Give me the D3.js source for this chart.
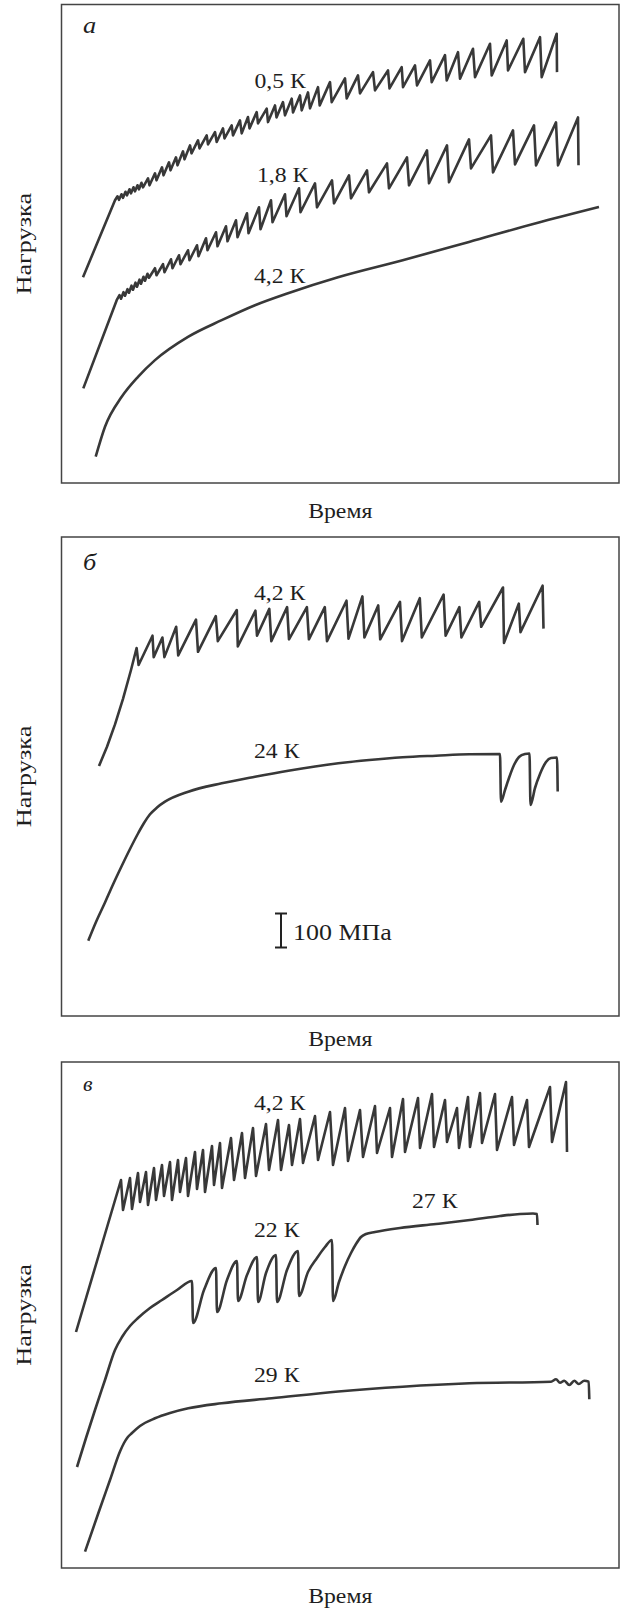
<!DOCTYPE html>
<html><head><meta charset="utf-8">
<script src="https://cdn.jsdelivr.net/npm/d3@7"></script>
<style>
body{margin:0;background:#fff}
text{font-family:"Liberation Serif","Times New Roman",serif;fill:#1e1e1e}
</style>
</head><body>
<svg id="chart" width="621" height="1609"></svg>
<script>
// ---------- DATA (time, load in arbitrary units) ----------
const xLabel = "Время";
const yLabel = "Нагрузка";
const panelLetters = ["а", "б", "в"];
const timeMax = 557.5;
const loadMax = [479, 479, 506];

// panel а
const a_05K = [[21.5,206],[53.5,283],
[56,287],[57.5,283.5],[60,289],[61.5,285.5],[64,291.5],[65.5,288],[68,294],[69.5,290],[72,296],[73.5,292],[76,298],[77.5,294],[80,300.5],[81.5,296],
[86.5,305],[88,298],[93.5,310],[95,303],[100.5,316],[102,308],[107.5,321],[109,313],[114.5,326],[116,318],[121.5,332],[123,324],[128.5,338],[130,330],
[136.5,343],[138,335],[145.2,348],[146.5,339],[153.5,351.3],[155.2,341.3],[161.5,355],[163,345],[170.2,358],[171.5,348],[178.5,363],[180.2,350],
[186.5,366.3],[188,355],[195.2,371.3],[196.5,360],[205.2,374.7],[206.5,361.3],[213.5,378],[215,366],[221.5,381.3],[223.5,368],[230.2,384.7],[231.5,371],
[238.5,388],[240.2,373],[246.5,391],[248.5,375],[256.5,396.3],[258.2,378],[268.5,401.3],[270.2,381.3],[283.5,405],[285.2,385],[296.5,408],[298.5,390],
[311.5,411.3],[313.5,393],[326.5,413],[328,395],[340.2,416.3],[341.5,396.3],[353.5,418],[355.5,398],[368.5,423],[370.2,401.3],[383.5,428.3],[385.2,403],
[396.5,431.3],[398.5,404.7],[411.5,434.7],[413.5,406.3],[428.5,439.7],[430.2,408],[445.2,443],[446.5,413],[461.8,444.7],[463.5,411.3],[478.5,446.3],[480.2,406.3],
[495.2,449.7],[495.5,411.3]];
const a_18K = [[21.8,94.7],[55.2,183],
[58,188],[59.5,184.5],[62,191],[63.5,187.5],[66,194],[67.5,190.5],[70,197.5],[71.5,193.5],[74,200.5],[75.5,196.5],[78,203.5],[79.5,199.5],[82,206.5],[83.5,202.5],[86,209.5],[87.5,205.5],
[93.5,215],[95,208],[101.5,219],[103,211],[109.5,224],[111,215],[117.5,228],[119,219],[126.5,233],[128,223],[135.5,238],[137,227],[144.5,245],[146,233],
[154.5,251],[156,237],[164.5,257],[166,242],[174.5,263],[176,246],[185.5,270],[187,250],[197.5,276],[199,254],[209.5,283],[211,261],[223.5,289],[225,267],
[237.5,295],[239,271],[253.5,300],[255.5,276],[270.5,303],[272.5,280],[287.5,308],[289.5,285],[305.5,313],[307.5,291],[325.5,320],[327.5,295],
[345.5,326],[347.5,298],[365.5,333],[367.5,300],[385.5,338],[387.5,301],[407.5,344],[409.5,315],[429.5,348],[431.5,311],[451.5,353],[453.5,319],
[472.5,358],[474.5,318],[494.5,361],[496.5,318],[516.5,366],[517,318]];
const a_42K = [[34.2,26.3],[43.5,56.3],[60.2,86.3],[76.5,106.3],[93.5,123],[126.5,146.3],[160.2,163],[193.5,178],[226.5,190],[276.5,206],[341.2,223],[407.5,241.3],[474.5,260],[537.5,276.3]];

// panel б
const b_42K = [[37.5,250],[45.5,269.2],[53.5,291.6],[61.5,317.2],[69.5,346],[75.1,368],
[77.1,351],[91,380.3],[92.2,358.9],[100.9,378.5],[102.9,358.9],[114.7,389.2],[116.7,360.6],[134.5,396.4],[136.5,364.2],[154.3,399.9],[156.3,374.9],
[175.3,406],[176.3,369.6],[193.9,405.3],[195.5,380.3],[207.8,407.1],[209.8,374.9],[225.6,408.9],[227.5,376.7],[245.4,408.9],[247.4,376.7],
[263.3,408.9],[265.5,374.9],[285,415.3],[287,377.4],[300.9,419.6],[302.9,378.5],[316.7,410.6],[318.7,376.7],[338.5,414.2],[340.5,374.9],
[358.3,417.8],[360.3,378.5],[382.1,421.4],[384.1,380.3],[397.9,408.9],[399.9,378.5],[417.7,414.2],[419.7,389.2],[441.5,428.5],[442.5,373.1],
[457.3,412.4],[459,383.9],[481.1,430.3],[482,387.4]];
const b_24K = [[26.8,75.3],[34.5,94],[43.5,113.5],[51.5,131.5],[60.2,150],[68.5,167],[76.8,183],[82.5,193],[88.5,201.7],[95.5,208.5],[103.5,214.3],
[126.8,224.3],[160.2,232.7],[193.5,239.3],[226.8,245.3],[276.8,252.7],[307.8,256],[341.2,258.7],[374.5,260.3],[407.8,261.7],[438.5,262],
[439.5,214.3],[443.5,226],[447.5,238],[452.5,251],[457.5,259],[463.5,262],[468,262.5],[469,211],[473.5,228],[478.5,242],[484.5,254],[489.5,258],[495.5,258.5],[496.2,224.5]];
const scaleBarMPa = 100;
const scaleBarLoad = 34;   // load units equal to 100 MPa

// panel в
const c_42K = [[14.5,236],[37,312],[59.5,388],
[61.5,358],[68.5,390],[70.5,359],[76.5,395],[78.5,366],[84.5,396],[86.5,363],[92.5,400],[94.5,368],[100.5,403],[102.5,372],[108.5,406],[110.5,368],
[116.5,408],[118.5,376],[124.5,410],[126.5,372],[133.5,416],[135.5,379],[141.5,418],[143.5,376],[150.5,422],[152.5,383],[158.5,425],[160.5,380],
[169.5,430],[172.5,388],[180.5,435],[183.5,390],[191.5,440],[194.5,392],[204.5,444],[207.5,398],[216.5,448],[219.5,398],[227.5,443],[230.5,403],
[238.5,449],[241.5,405],[253.5,452],[256.5,408],[268.5,456],[271.5,403],[283.5,460],[286.5,407],[298.5,458],[301.5,411],[313.5,462],[315.5,415],
[328.5,460],[330.5,411],[341.5,469],[343.5,416],[356.5,470],[358.5,420],[370.5,474],[372.5,421],[383.5,468],[385.5,426],[395.5,460],[397.5,420],
[406.5,471],[408.5,421],[418.5,475],[420.5,425],[433.5,474],[435.5,418],[450.5,471],[452.5,423],[465.5,468],[467.5,421],[488.5,481],[490.5,426],
[504.5,486],[505.5,416]];
const c_22_27K = [[15.5,101],[24.5,130],[33.5,158],[43.5,188],[53.5,218],[60.5,231],[68.5,242],[76.5,250],[88.5,260],[100.5,268],[115.5,278],[130.5,287],
[131.5,245],[142.5,278],[154.5,300],[155.5,256],[165.5,288],[175.5,307],[176.5,267],[185.5,293],[195.5,311],[196.5,266],[204.5,295],[214.5,313],
[215.5,266],[225.5,298],[236.5,317],[237.5,272],[246.5,296],[255.5,310],[263.5,321],[270.5,328],[271.5,267],[277.5,286],[283.5,302],[289.5,315],
[294.5,324],[299.5,331],[304.5,334],[313.5,336],[338.5,340],[374.5,344],[408.5,348],[438.5,352],[458.5,354],[471.5,354.5],[475.5,354],[476,343]];
const c_29K = [[23.5,16.3],[36.8,54.7],[48.5,88],[58.5,116.5],[62.5,125],[66,130.5],[70.2,134.7],[78.5,142],[93.5,149.7],[108.5,155],[126.8,159.7],
[160.2,164.7],[210.2,169.7],[276.8,176.5],[341.2,181.3],[407.8,184.7],[489.5,186.3],[494.5,188.7],[498.5,185.3],[502.8,187.3],[507.8,183],
[512.8,187.3],[517.2,184],[522.8,187.3],[527.2,186.3],[527.8,168.7]];

// curve labels: [text, time, load]
const a_labels = [["0,5 К",193,395],["1,8 К",195.5,301],["4,2 К",192.5,200]];
const b_labels = [["4,2 К",192.5,416],["24 К",192.5,258]];
const c_labels = [["4,2 К",192.5,458],["22 К",192.5,331.3],["27 К",350.5,359.7],["29 К",192.5,186.3]];

// ---------- LAYOUT ----------
const svg = d3.select("#chart");
const boxes = [
  {top:4.5, bottom:483, left:61.5, right:619, xlabY:518, letterDy:28},
  {top:537, bottom:1016, left:61.5, right:619, xlabY:1046, letterDy:33},
  {top:1062, bottom:1568, left:61.5, right:619, xlabY:1603, letterDy:29}
];
const panels = [
  {series:[{d:a_05K,c:d3.curveLinear},{d:a_18K,c:d3.curveLinear},{d:a_42K,c:d3.curveMonotoneX}], labels:a_labels},
  {series:[{d:b_42K,c:d3.curveLinear},{d:b_24K,c:d3.curveMonotoneX}], labels:b_labels, scaleBar:true},
  {series:[{d:c_42K,c:d3.curveLinear},{d:c_22_27K,c:d3.curveMonotoneX},{d:c_29K,c:d3.curveMonotoneX}], labels:c_labels}
];
const SX = 1.13;       // horizontal text stretch
const FS = 21;
const lineColor = "#383838";

panels.forEach((p, i) => {
  const b = boxes[i];
  const x = d3.scaleLinear().domain([0, timeMax]).range([b.left, b.right]);
  const y = d3.scaleLinear().domain([0, loadMax[i]]).range([b.bottom, b.top]);
  const g = svg.append("g");

  g.append("rect")
    .attr("x", x(0)).attr("y", y(loadMax[i]))
    .attr("width", x(timeMax) - x(0)).attr("height", y(0) - y(loadMax[i]))
    .attr("fill", "none").attr("stroke", "#444").attr("stroke-width", 1.5);

  p.series.forEach(s => {
    g.append("path")
      .attr("d", d3.line().x(d => x(d[0])).y(d => y(d[1])).curve(s.c)(s.d))
      .attr("fill", "none").attr("stroke", lineColor)
      .attr("stroke-width", 2.6).attr("stroke-linejoin", "round").attr("stroke-linecap", "butt");
  });

  p.labels.forEach(l => {
    g.append("text")
      .attr("transform", `translate(${x(l[1])},${y(l[2])}) scale(${SX},1)`)
      .attr("font-size", FS).text(l[0]);
  });

  // panel letter
  g.append("text")
    .attr("transform", `translate(${x(21.5)},${b.top + b.letterDy}) scale(1.1,1)`)
    .attr("font-size", i===2 ? 20 : 24).attr("font-style", "italic").text(panelLetters[i]);

  // axis titles
  g.append("text")
    .attr("transform", `translate(${(x(0)+x(timeMax))/2},${b.xlabY}) scale(${SX},1)`)
    .attr("text-anchor", "middle").attr("font-size", FS).text(xLabel);
  g.append("text")
    .attr("transform", `translate(31,${(y(0)+y(loadMax[i]))/2}) rotate(-90) scale(1.25,1)`)
    .attr("text-anchor", "middle").attr("font-size", FS).text(yLabel);

  if (p.scaleBar) {
    const bx = x(219.5), y0 = y(68.5), y1 = y(68.5 + scaleBarLoad);
    g.append("line").attr("x1", bx).attr("x2", bx).attr("y1", y0).attr("y2", y1).attr("stroke", "#222").attr("stroke-width", 2);
    [y0, y1].forEach(yy => g.append("line").attr("x1", bx-6).attr("x2", bx+6).attr("y1", yy).attr("y2", yy).attr("stroke", "#222").attr("stroke-width", 2));
    g.append("text")
      .attr("transform", `translate(${x(231.5)},${y(76)}) scale(1.13,1)`)
      .attr("font-size", 23).text(scaleBarMPa + " МПа");
  }
});
</script>
</body></html>
